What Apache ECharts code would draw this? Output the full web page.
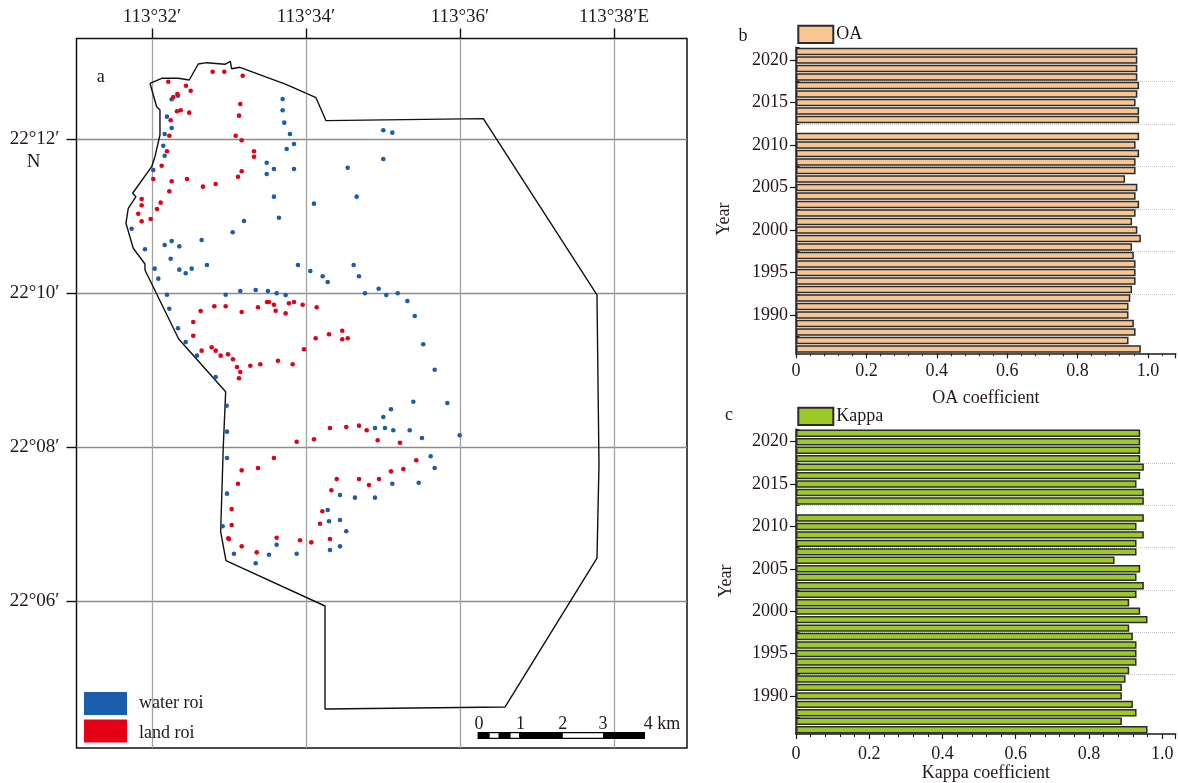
<!DOCTYPE html>
<html>
<head>
<meta charset="utf-8">
<style>html,body{margin:0;padding:0;background:#fff}#c{width:1178px;height:783px}</style>
<script src="https://cdn.jsdelivr.net/npm/echarts@6/dist/echarts.min.js"></script>
</head>
<body>
<div id="c"></div>
<script>
// Longitude / latitude are stored as arc-minutes past 113° E and 22° N.
var lonTicks = [32, 34, 36, 38];
var lonTickLabels = ['113°32′', '113°34′', '113°36′', '113°38′E'];
var latTicks = [12, 10, 8, 6];
var latTickLabels = ['22°12′', '22°10′', '22°08′', '22°06′'];

var waterRoi = [
[33.697,12.519],[33.697,12.373],[33.718,12.212],[33.792,12.065],[33.844,11.935],[33.749,11.870],[33.490,11.692],[33.584,11.610],[33.844,11.610],[33.490,11.545],
[34.542,11.627],[33.584,11.251],[34.104,11.160],[33.649,10.978],[33.195,10.935],[33.048,10.788],[32.645,10.688],[32.355,10.606],[32.256,10.675],[32.165,10.623],
[31.909,10.568],[31.736,10.835],[32.017,11.597],[32.147,11.913],[32.165,11.783],[32.165,12.065],[32.256,12.143],[32.195,12.290],[32.256,12.516],[32.338,12.562],
[35.004,12.113],[35.121,12.082],[35.004,11.740],[34.658,11.251],[32.243,10.445],[32.035,10.316],[32.355,10.303],[32.438,10.256],[32.516,10.316],[32.714,10.364],
[32.082,10.186],[32.195,9.978],[32.225,9.796],[32.338,9.542],[32.438,9.364],[32.584,9.186],[32.827,8.909],[32.970,8.536],[32.957,9.978],[33.147,10.026],
[33.347,10.039],[33.506,10.026],[33.619,9.996],[33.736,9.974],[33.896,10.364],[34.056,10.286],[34.217,10.217],[34.282,10.143],[34.619,10.364],[34.688,10.217],
[34.766,9.996],[34.944,10.056],[35.043,9.974],[35.191,9.996],[35.316,9.896],[35.412,9.701],[35.523,9.334],[35.671,9.004],[35.394,8.588],[35.835,8.571],
[35.104,8.490],[32.974,8.199],[32.974,7.857],[32.974,7.394],[32.918,6.970],[33.065,6.614],[33.347,6.490],[33.519,6.601],[33.619,6.731],[33.879,6.614],
[34.282,7.182],[34.299,7.035],[34.442,7.052],[34.442,7.377],[34.636,7.342],[34.896,7.342],[34.523,6.905],[34.442,6.710],[34.312,6.662],[35.121,7.523],
[35.464,7.536],[35.671,7.727],[35.619,7.879],[35.506,8.117],[35.347,8.217],[35.134,8.217],[35.026,8.247],[34.896,8.247],[35.004,8.390],[35.996,8.152]
];
var landRoi = [
[32.212,12.744],[32.442,12.692],[32.503,12.627],[32.788,12.874],[32.939,12.874],[33.178,12.822],[32.329,12.584],[32.277,12.545],[33.147,12.455],[32.325,12.360],
[32.373,12.373],[32.484,12.342],[33.130,12.303],[32.243,12.243],[32.225,12.043],[33.087,12.043],[33.165,11.983],[32.195,11.840],[33.325,11.840],[33.325,11.770],
[32.126,11.653],[33.165,11.581],[33.117,11.510],[32.017,11.481],[32.256,11.451],[32.455,11.481],[32.662,11.381],[32.827,11.416],[32.225,11.321],[31.866,11.221],
[31.866,11.139],[32.113,11.173],[32.065,11.091],[31.822,11.030],[31.866,10.931],[31.983,10.961],[32.632,9.766],[32.809,9.827],[32.957,9.827],[33.165,9.753],
[33.377,9.814],[33.494,9.883],[33.519,9.883],[33.584,9.848],[33.606,9.770],[33.736,9.736],[33.779,9.866],[33.844,9.883],[33.957,9.848],[34.139,9.814],
[32.536,9.623],[32.536,9.445],[32.645,9.251],[32.775,9.295],[32.827,9.251],[32.892,9.186],[32.987,9.204],[33.052,9.139],[33.104,9.039],[33.147,8.974],
[33.130,8.892],[33.277,9.056],[33.406,9.074],[33.636,9.121],[33.827,9.074],[33.974,9.269],[34.126,9.412],[34.299,9.464],[34.471,9.510],[34.471,9.399],
[34.542,9.412],[33.879,8.069],[34.104,8.100],[34.312,8.247],[34.523,8.260],[34.688,8.277],[34.788,8.217],[34.931,8.087],[35.221,8.056],[33.584,7.857],
[33.377,7.727],[33.165,7.697],[33.117,7.523],[33.035,7.195],[33.035,6.987],[32.991,6.814],[33.000,6.805],[33.165,6.710],[33.360,6.632],[33.619,6.822],
[33.922,6.788],[34.069,6.762],[34.312,6.805],[34.182,7.004],[34.212,7.165],[34.329,7.438],[34.399,7.584],[34.688,7.584],[34.818,7.506],[34.948,7.584],
[35.104,7.684],[35.264,7.714],[35.432,7.827]
];
var studyBoundary = [
[31.974,12.723],[32.126,12.788],[32.342,12.788],[32.484,12.766],[32.601,12.974],[32.710,12.991],[32.948,12.970],[33.017,13.009],[33.035,12.913],[33.143,12.931],
[33.749,12.705],[34.130,12.536],[34.260,12.238],[36.303,12.264],[37.779,9.974],[37.805,7.766],[37.779,6.558],[36.584,4.623],[34.247,4.597],[34.247,5.935],
[32.961,6.523],[32.892,6.900],[32.926,8.004],[32.957,8.718],[32.347,9.403],[31.909,10.299],[31.909,10.377],[31.757,10.581],[31.662,10.905],[31.692,11.100],
[31.792,11.251],[31.749,11.295],[31.996,11.640],[32.039,11.770],[32.104,12.052],[32.104,12.377],[32.061,12.419],[31.974,12.723]
];

// Years run bottom to top; 2012 has no value.
var years = ['1986','1987','1988','1989','1990','1991','1992','1993','1994','1995','1996','1997','1998','1999','2000','2001','2002','2003',
'2004','2005','2006','2007','2008','2009','2010','2011','2012','2013','2014','2015','2016','2017','2018','2019','2020','2021'];
var oaValues = [0.98,0.945,0.965,0.96,0.945,0.945,0.95,0.955,0.965,0.965,0.965,0.96,0.955,0.98,0.97,0.955,0.965,0.975,
0.965,0.97,0.935,0.965,0.965,0.975,0.965,0.975,null,0.975,0.975,0.965,0.97,0.975,0.97,0.97,0.97,0.97];
var kappaValues = [0.96,0.89,0.93,0.92,0.89,0.89,0.90,0.91,0.93,0.93,0.93,0.92,0.91,0.96,0.94,0.91,0.93,0.95,
0.93,0.94,0.87,0.93,0.93,0.95,0.93,0.95,null,0.95,0.95,0.93,0.94,0.95,0.94,0.94,0.94,0.94];

var FONT = '"Liberation Serif", serif';
var TXT = '#231815';
var LINE = '#1a1a1a';

function barX(gridIndex, max, name, gap, labelMargin) {
  return {
    type: 'value', gridIndex: gridIndex, min: 0, max: max, interval: 0.2,
    name: name, nameLocation: 'middle', nameGap: gap,
    nameTextStyle: {fontFamily: FONT, fontSize: 18, color: TXT},
    axisLine: {show: true, onZero: false, lineStyle: {color: LINE, width: 1.5}},
    axisTick: {show: true, length: 5, lineStyle: {color: LINE, width: 1.2}},
    minorTick: {show: true, splitNumber: 5, length: 3, lineStyle: {color: LINE, width: 1}},
    splitLine: {show: false},
    axisLabel: {fontFamily: FONT, fontSize: 18, color: TXT, margin: labelMargin, showMaxLabel: false,
      formatter: function (v) { return v === 0 ? '0' : v.toFixed(1); }}
  };
}
function barY(gridIndex) {
  return {
    type: 'category', gridIndex: gridIndex, data: years, boundaryGap: true,
    axisLine: {show: true, onZero: false, lineStyle: {color: LINE, width: 1.5}},
    axisTick: {show: true, alignWithLabel: true, length: 6, lineStyle: {color: LINE, width: 1.2},
      interval: function (i, v) { return +v % 5 === 0; }},
    splitLine: {show: false},
    axisLabel: {fontFamily: FONT, fontSize: 18, color: TXT, margin: 8,
      interval: function (i, v) { return +v % 5 === 0; }}
  };
}
function barYBands(gridIndex) {
  var every = function (i, v) { return +v % 5 === 3; };
  return {
    type: 'category', gridIndex: gridIndex, data: years, boundaryGap: true,
    axisLine: {show: false},
    axisLabel: {show: false},
    axisTick: {show: true, length: 3.5, lineStyle: {color: LINE, width: 1}, interval: every},
    splitLine: {show: true, showMaxLine: false, showMinLine: false, interval: every, lineStyle: {color: '#c4c4c4', type: 'dotted', width: 1}}
  };
}
function barSeries(name, data, xi, yi, fill) {
  return {
    name: name, type: 'bar', xAxisIndex: xi, yAxisIndex: yi, data: data, barWidth: 7.4, z: 3,
    itemStyle: {color: fill, borderColor: '#2b2b2b', borderWidth: 1.5}
  };
}
function mapText(t, x, y, extra) {
  var s = {text: t, x: x, y: y, fontFamily: FONT, fontSize: 18, fill: TXT, align: 'center', verticalAlign: 'middle'};
  for (var k in (extra || {})) s[k] = extra[k];
  return {type: 'text', style: s, z: 20};
}
function scaleRect(x, w, fill, inset) {
  return {type: 'rect', shape: {x: x, y: 732 + inset, width: w, height: 7 - 2 * inset}, style: {fill: fill}, z: 20};
}
function tickCover(y) {
  return {type: 'rect', shape: {x: 791, y: y, width: 4.2, height: 2}, style: {fill: '#fff'}, z: 20};
}

var option = {
  animation: false,
  backgroundColor: '#fff',
  grid: [
    {left: 76.5, top: 38.5, width: 610.5, height: 709.5, show: true, borderColor: '#111', borderWidth: 1.5, backgroundColor: '#fff'},
    {left: 796, top: 47.3, width: 379.7, height: 306},
    {left: 796, top: 429, width: 379.7, height: 306}
  ],
  xAxis: [
    {type: 'value', gridIndex: 0, position: 'top', min: 31.02, max: 38.948,
      axisLine: {show: false}, axisTick: {show: true, length: 10, customValues: lonTicks, lineStyle: {color: '#111', width: 1.4}},
      splitLine: {show: true, lineStyle: {color: '#a3a3a3', width: 1.3}},
      axisLabel: {customValues: lonTicks, fontFamily: FONT, fontSize: 19, color: TXT, margin: 12,
        formatter: function (v) { return lonTickLabels[lonTicks.indexOf(v)] || ''; }}},
    barX(1, 1.079, 'OA coefficient', 36, 9),
    barX(2, 1.037, 'Kappa coefficient', 30, 11)
  ],
  yAxis: [
    {type: 'value', gridIndex: 0, min: 4.091, max: 13.305,
      axisLine: {show: false}, axisTick: {show: true, length: 10, customValues: latTicks, lineStyle: {color: '#111', width: 1.4}},
      splitLine: {show: true, lineStyle: {color: '#8c8c8c', width: 1.3}},
      axisLabel: {customValues: latTicks, fontFamily: FONT, fontSize: 19, color: TXT, margin: 17,
        formatter: function (v) { return latTickLabels[latTicks.indexOf(v)] || ''; }}},
    barY(1), barYBands(1), barY(2), barYBands(2)
  ],
  legend: [
    {data: ['water roi'], left: 84, top: 692, itemWidth: 43, itemHeight: 23, icon: 'rect',
      selectedMode: false, padding: 0,
      textStyle: {fontFamily: FONT, fontSize: 18, color: TXT, padding: [0, 0, 0, 7]}},
    {data: ['land roi'], left: 84, top: 719.5, itemWidth: 43, itemHeight: 23, icon: 'rect',
      selectedMode: false, padding: 0, formatter: function () { return ' '; },
      textStyle: {fontFamily: FONT, fontSize: 18, color: TXT}},
    {data: ['OA'], left: 797.3, top: 24.7, itemWidth: 35, itemHeight: 17.3, selectedMode: false, padding: 0, icon: 'rect',
      textStyle: {fontFamily: FONT, fontSize: 18, color: TXT, padding: [0, 0, 0, -2]}},
    {data: ['Kappa'], left: 797.3, top: 406.7, itemWidth: 35, itemHeight: 17.3, selectedMode: false, padding: 0, icon: 'rect',
      textStyle: {fontFamily: FONT, fontSize: 18, color: TXT, padding: [0, 0, 0, -2]}}
  ],
  series: [
    {name: 'boundary', type: 'line', xAxisIndex: 0, yAxisIndex: 0, data: studyBoundary, showSymbol: false, silent: true,
      lineStyle: {color: '#111', width: 1.4}, z: 3},
    {name: 'water roi', type: 'scatter', xAxisIndex: 0, yAxisIndex: 0, data: waterRoi, symbolSize: 4.6,
      itemStyle: {color: '#1a5dab', opacity: 1}, z: 4},
    {name: 'land roi', type: 'scatter', xAxisIndex: 0, yAxisIndex: 0, data: landRoi, symbolSize: 4.6,
      itemStyle: {color: '#e60017', opacity: 1}, z: 5},
    barSeries('OA', oaValues, 1, 1, '#f8c692'),
    barSeries('Kappa', kappaValues, 2, 3, '#9dc926')
  ],
  graphic: [
    mapText('a', 100.7, 77),
    mapText('b', 743, 36),
    mapText('c', 729, 415),
    mapText('N', 33.7, 162, {fontSize: 19}),
    mapText('land roi', 139, 733, {align: 'left'}),
    {type: 'text', x: 724.5, y: 219, rotation: Math.PI / 2, z: 20,
      style: {text: 'Year', x: 0, y: 0, fontFamily: FONT, fontSize: 18, fill: TXT, align: 'center', verticalAlign: 'middle'}},
    {type: 'text', x: 726.5, y: 581, rotation: Math.PI / 2, z: 20,
      style: {text: 'Year', x: 0, y: 0, fontFamily: FONT, fontSize: 18, fill: TXT, align: 'center', verticalAlign: 'middle'}},
    tickCover(46.3),
    tickCover(428),
    scaleRect(477.6, 167.4, '#000', 0),
    scaleRect(489.7, 8.8, '#fff', 1.2),
    scaleRect(510.6, 8.4, '#fff', 1.2),
    scaleRect(562.8, 40.2, '#fff', 1.2),
    mapText('0', 479, 724), mapText('1', 520.6, 724), mapText('2', 562.8, 724), mapText('3', 603, 724),
    mapText('4 km', 662, 724)
  ]
};
var chart = echarts.init(document.getElementById('c'), null, {renderer: 'canvas'});
chart.setOption(option);
</script>
</body>
</html>
